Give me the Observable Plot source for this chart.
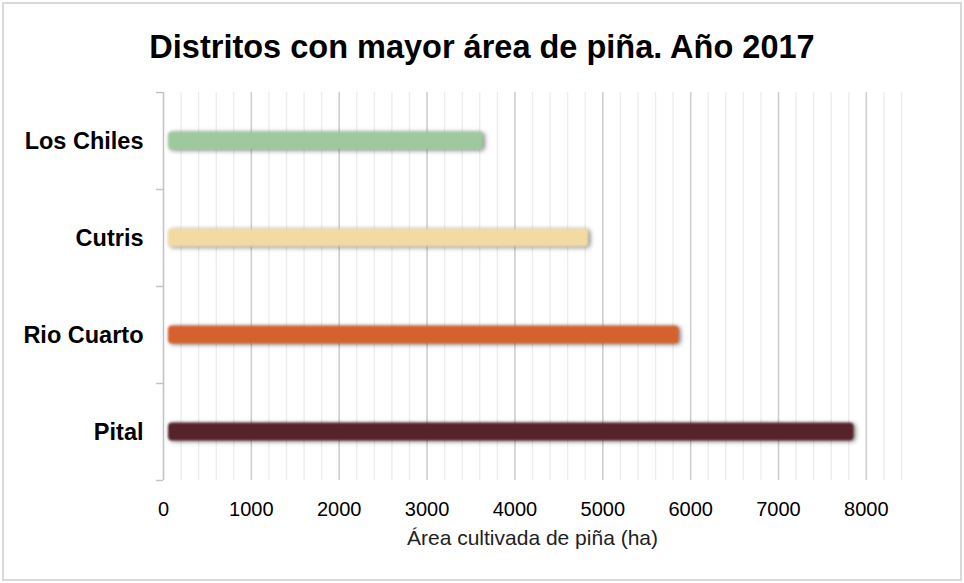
<!DOCTYPE html>
<html>
<head>
<meta charset="utf-8">
<script src="https://cdn.jsdelivr.net/npm/d3@7"></script>
<script src="https://cdn.jsdelivr.net/npm/@observablehq/plot@0.6"></script>
<style>
  html, body { margin: 0; padding: 0; background: #fff; }
  #wrap { position: relative; width: 964px; height: 583px; overflow: hidden; font-family: "Liberation Sans", Arial, sans-serif; }
  #border { position: absolute; left: 2px; top: 2px; width: 956px; height: 575px; border: 2px solid #d9d9d9; }
  #title { position: absolute; left: 0; top: 0; width: 964px; height: 94px; line-height: 94px; text-align: center; font-size: 32.5px; font-weight: bold; color: #000; }
  #chart { position: absolute; left: 0; top: 75px; }
  #chart svg .bars rect { filter: drop-shadow(2px 1px 2px rgba(0,0,0,0.5)) blur(0.8px); }
</style>
</head>
<body>
<div id="wrap">
  <div id="border"></div>
  <div id="title">Distritos con mayor área de piña. Año 2017</div>
  <div id="chart"></div>
</div>
<script>
const districts = ["Los Chiles", "Cutris", "Rio Cuarto", "Pital"];
const areas = [3640, 4840, 5870, 7860];
const colors = ["#9ec99f", "#f2dba2", "#d5612f", "#56222c"];
const majorTicks = [0, 1000, 2000, 3000, 4000, 5000, 6000, 7000, 8000];
const minorTicks = d3.range(0, 8401, 200);
const xTitle = "Área cultivada de piña (ha)";

const data = districts.map((d, i) => ({district: d, area: areas[i], color: colors[i]}));

const chart = Plot.plot({
  width: 964,
  height: 508,
  marginLeft: 163,
  marginRight: 63,
  marginTop: 17,
  marginBottom: 103,
  style: {fontFamily: "'Liberation Sans', Arial, sans-serif", background: "transparent"},
  x: {domain: [0, 8400]},
  y: {domain: districts, padding: 0},
  marks: [
    Plot.ruleX(minorTicks, {stroke: "#ececec", strokeWidth: 1.3}),
    Plot.ruleX(majorTicks.filter(d => d > 0), {stroke: "#cfcfcf", strokeWidth: 1.5}),
    Plot.ruleX([0], {stroke: "#c4c4c4", strokeWidth: 1.5}),
    Plot.ruleY(districts, {y: d => d, x1: -80, x2: 0, dy: -48.5, stroke: "#c4c4c4", strokeWidth: 1.5}),
    Plot.ruleY([districts[districts.length - 1]], {y: d => d, x1: -80, x2: 0, dy: 48.5, stroke: "#c4c4c4", strokeWidth: 1.5}),
    Plot.barX(data, {y: "district", x1: 0, x2: "area", fill: "color", insetTop: 39.5, insetBottom: 39.5, insetLeft: 5, rx: 4, className: "bars"}),
    Plot.axisY({tickSize: 0, tickPadding: 20, fontSize: 23.5, fontWeight: "bold", fill: "#000", label: null}),
    Plot.axisX({ticks: majorTicks, tickSize: 0, tickPadding: 21, fontSize: 20, fill: "#000", tickFormat: d => String(d), label: null}),
    Plot.text([xTitle], {frameAnchor: "bottom", dy: 64, fontSize: 21, fill: "#222", text: d => d})
  ]
});
document.getElementById("chart").appendChild(chart);
</script>
</body>
</html>
